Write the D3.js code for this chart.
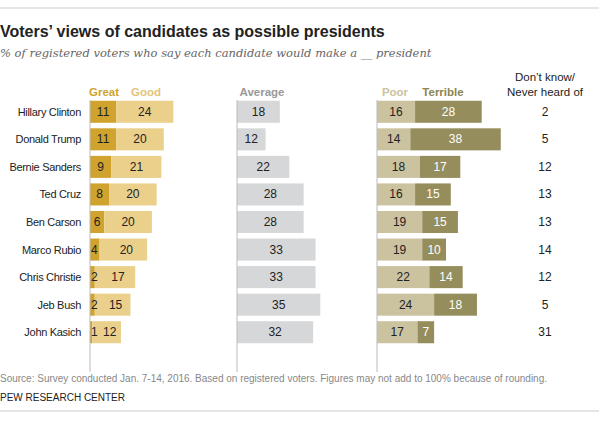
<!DOCTYPE html>
<html><head><meta charset="utf-8">
<script src="https://cdn.jsdelivr.net/npm/d3@7"></script>
<style>
body{margin:0;background:#fff;font-family:"Liberation Sans Narrow","Roboto Condensed",Arial,sans-serif}
</style></head><body>
<svg id="chart" width="599" height="423"></svg>
<script>
// data
var names = ["Hillary Clinton","Donald Trump","Bernie Sanders","Ted Cruz","Ben Carson","Marco Rubio","Chris Christie","Jeb Bush","John Kasich"];
var great = [11,11,9,8,6,4,2,2,1];
var good = [24,20,21,20,20,20,17,15,12];
var average = [18,12,22,28,28,33,33,35,32];
var poor = [16,14,18,16,19,19,22,24,17];
var terrible = [28,38,17,15,15,10,14,18,7];
var dontKnow = [2,5,12,13,13,14,12,5,31];

var svg = d3.select("#chart");
var font = "'Liberation Sans Narrow',Arial,sans-serif";

svg.append("line").attr("x1",0).attr("x2",599).attr("y1",8).attr("y2",8).attr("stroke","#ddd").attr("stroke-width",1.5);
svg.append("line").attr("x1",0).attr("x2",599).attr("y1",411).attr("y2",411).attr("stroke","#ddd").attr("stroke-width",1.5);

svg.append("text").attr("x",0).attr("y",37).text("Voters’ views of candidates as possible presidents")
    .style("font-family","'Liberation Sans',Arial,sans-serif").style("font-weight","bold").style("font-size","16px").attr("fill","#222");
svg.append("text").attr("x",0).attr("y",57).text("% of registered voters who say each candidate would make a __ president")
    .style("font-family","Georgia,'DejaVu Serif',serif").style("font-style","italic").style("font-size","11.5px").attr("fill","#666");

var y = d3.scaleBand().domain(names).range([98, 346]).paddingInner(0.2).paddingOuter(0.1);
var k = d3.scaleLinear().domain([0, 1]).range([0, 2.38]);

var x0 = 90, xAvg = 237, xPoor = 377, xDk = 545;

var g = svg.append("g");

// row labels
g.selectAll(".name").data(names).enter().append("text")
    .attr("x", 81).attr("y", function (d) { return y(d) + y.bandwidth() / 2 + 4; })
    .attr("text-anchor","end").style("font-family",font).style("font-size","11px").style("letter-spacing","-0.3px").attr("fill","#222")
    .text(function (d) { return d; });

function drawStack(x, a, b, ca, cb, ta, tb) {
    names.forEach(function (n, i) {
        var yy = y(n), h = y.bandwidth();
        g.append("rect").attr("x", x).attr("y", yy).attr("width", k(a[i])).attr("height", h).attr("fill", ca);
        if (b) g.append("rect").attr("x", x + k(a[i])).attr("y", yy).attr("width", k(b[i])).attr("height", h).attr("fill", cb);
        var small = a[i] < 5;
        g.append("text").attr("x", small ? x + 1 : x + k(a[i]) / 2).attr("y", yy + h / 2 + 4)
            .attr("text-anchor", small ? "start" : "middle").style("font-family",font).style("font-size","12px").attr("fill", ta).text(a[i]);
        if (b) g.append("text").attr("x", x + k(a[i]) + k(b[i]) / 2 + (small ? 3 : 0)).attr("y", yy + h / 2 + 4)
            .attr("text-anchor","middle").style("font-family",font).style("font-size","12px").attr("fill", tb).text(b[i]);
    });
    g.append("line").attr("x1", x).attr("x2", x).attr("y1", 100).attr("y2", 372).attr("stroke","#bbb");
}

drawStack(x0, great, good, "#cfa32e", "#ebd08c", "#222", "#222");
drawStack(xAvg, average, null, "#d6d7d9", null, "#222");
drawStack(xPoor, poor, terrible, "#cbc2a0", "#968d5c", "#222", "#fff");

g.selectAll(".dk").data(names).enter().append("text")
    .attr("x", xDk).attr("y", function (d) { return y(d) + y.bandwidth() / 2 + 4; })
    .attr("text-anchor","middle").style("font-family",font).style("font-size","12px").attr("fill","#222")
    .text(function (d, i) { return dontKnow[i]; });

// headers
var heads = [
    {t:"Great", x:104, c:"#cfa32e"}, {t:"Good", x:146, c:"#e2c57a"},
    {t:"Average", x:262, c:"#999"},
    {t:"Poor", x:395, c:"#cbc2a0"}, {t:"Terrible", x:443, c:"#8c8352"}
];
g.selectAll(".head").data(heads).enter().append("text")
    .attr("x", function (d) { return d.x; }).attr("y", 96)
    .attr("text-anchor","middle").style("font-family",font).style("font-weight","bold").style("font-size","11.5px")
    .attr("fill", function (d) { return d.c; }).text(function (d) { return d.t; });
g.append("text").attr("x", xDk).attr("y", 81).attr("text-anchor","middle").style("font-family",font).style("font-size","11.5px").attr("fill","#222").text("Don’t know/");
g.append("text").attr("x", xDk).attr("y", 96).attr("text-anchor","middle").style("font-family",font).style("font-size","11.5px").attr("fill","#222").text("Never heard of");

svg.append("text").attr("x",0).attr("y",382).text("Source: Survey conducted Jan. 7-14, 2016. Based on registered voters. Figures may not add to 100% because of rounding.")
    .style("font-family",font).style("font-size","10px").attr("fill","#888");
svg.append("text").attr("x",0).attr("y",401).text("PEW RESEARCH CENTER")
    .style("font-family",font).style("font-size","10px").attr("fill","#222");
</script>
</body></html>
